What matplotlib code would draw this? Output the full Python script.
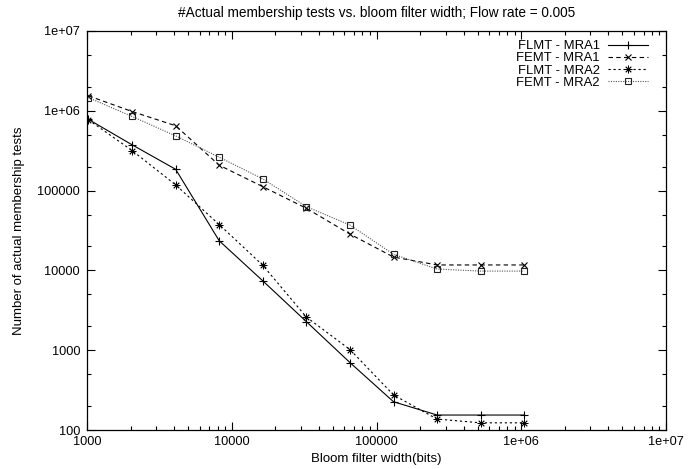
import matplotlib
matplotlib.use("Agg")
import matplotlib.pyplot as plt
from matplotlib.ticker import FixedLocator, FuncFormatter, LogLocator, NullFormatter

plt.rcParams['font.family'] = ['Liberation Sans', 'DejaVu Sans']

title = "#Actual membership tests vs. bloom filter width; Flow rate = 0.005"
xlabel = "Bloom filter width(bits)"
ylabel = "Number of actual membership tests"

widths = [1024, 2048, 4096, 8192, 16384, 32768, 65536, 131072, 262144, 524288, 1048576]

flmt_mra1 = [780000, 375000, 185000, 23500, 7400, 2280, 700, 226, 154, 154, 154]
femt_mra1 = [1540000, 980000, 650000, 208000, 112000, 60000, 28500, 14700, 11700, 11700, 11700]
flmt_mra2 = [770000, 318000, 118000, 37500, 11600, 2600, 1020, 275, 137, 123, 123]
femt_mra2 = [1460000, 850000, 485000, 262000, 140000, 63000, 37000, 15900, 10400, 9800, 9800]

labels = ["FLMT - MRA1", "FEMT - MRA1", "FLMT - MRA2", "FEMT - MRA2"]

x_ticks = [1000, 10000, 100000, 1000000, 10000000]
x_ticklabels = ["1000", "10000", "100000", "1e+06", "1e+07"]
y_ticks = [100, 1000, 10000, 100000, 1000000, 10000000]
y_ticklabels = ["100", "1000", "10000", "100000", "1e+06", "1e+07"]

fs = 9.2

fig = plt.figure(figsize=(6.98, 4.69), dpi=100)
ax = fig.add_axes([87/698, 1-430/469, (666-87)/698, (430-31)/469])

lw = 0.8
ax.plot(widths, flmt_mra1, color='black', lw=lw, linestyle='-',
        marker='+', ms=6, mew=0.8, label=labels[0])
ax.plot(widths, femt_mra1, color='black', lw=lw, linestyle=(0, (4, 3)),
        marker='x', ms=5, mew=0.8, label=labels[1])
ax.plot(widths, flmt_mra2, color='black', lw=lw, linestyle=(0, (2, 2.5)),
        marker=(8, 2, 0), ms=5.5, mew=0.6, label=labels[2])
ax.plot(widths, femt_mra2, color='#555555', lw=lw, linestyle=(0, (1, 1.2)),
        marker='s', ms=5, mew=0.8, mfc='none', mec='#222222', label=labels[3])

ax.set_xscale('log')
ax.set_yscale('log')
ax.set_xlim(1000, 1e7)
ax.set_ylim(100, 1e7)

ax.xaxis.set_major_locator(FixedLocator(x_ticks))
ax.xaxis.set_major_formatter(FuncFormatter(lambda v, p: x_ticklabels[x_ticks.index(round(v))] if round(v) in x_ticks else ""))
ax.xaxis.set_minor_locator(LogLocator(base=10, subs=[2, 3, 4, 5, 6, 7, 8, 9], numticks=20))
ax.xaxis.set_minor_formatter(NullFormatter())
ax.yaxis.set_major_locator(FixedLocator(y_ticks))
ax.yaxis.set_major_formatter(FuncFormatter(lambda v, p: y_ticklabels[y_ticks.index(round(v))] if round(v) in y_ticks else ""))
ax.yaxis.set_minor_locator(LogLocator(base=10, subs=[2, 5], numticks=20))
ax.yaxis.set_minor_formatter(NullFormatter())

ax.tick_params(which='both', direction='in', top=True, right=True, labelsize=fs, width=0.8)
ax.tick_params(which='major', length=6)
ax.tick_params(which='minor', length=3)
ax.tick_params(axis='x', pad=4)
ax.tick_params(axis='y', pad=5)
for s in ax.spines.values():
    s.set_linewidth(0.9)

ax.set_title(title, fontsize=9.8, pad=10)
ax.set_xlabel(xlabel, fontsize=9.5, labelpad=4)
ax.set_ylabel(ylabel, fontsize=9.5, labelpad=9)

ax.legend(loc='upper right', frameon=False, markerfirst=False, fontsize=9.4,
          handlelength=3.1, handletextpad=0.6, labelspacing=0.0,
          borderaxespad=0.3, bbox_to_anchor=(0.985, 1.0))

fig.savefig("out.png", dpi=100)
